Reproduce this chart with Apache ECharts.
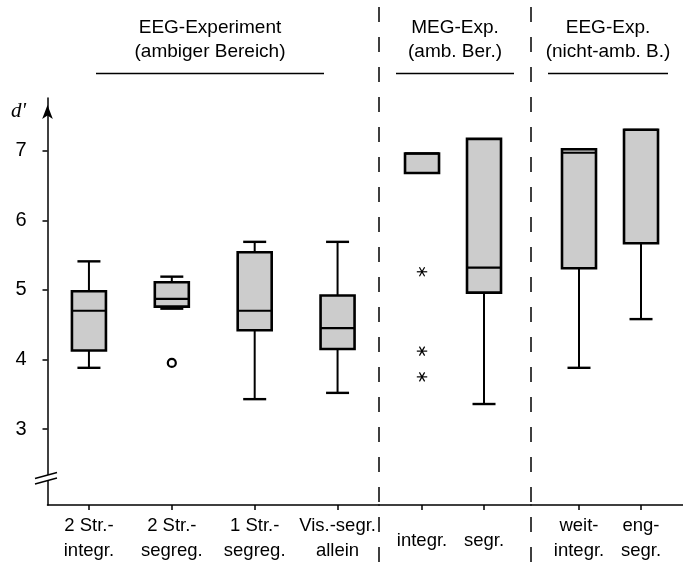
<!DOCTYPE html>
<html>
<head>
<meta charset="utf-8">
<script src="https://cdn.jsdelivr.net/npm/echarts@6/dist/echarts.min.js"></script>
<style>
  html, body { margin: 0; padding: 0; background: #fff; }
  #chart { width: 683px; height: 566px; }
</style>
</head>
<body>
<div id="chart"></div>
<script>
// ---- data -------------------------------------------------------------
// Conditions (two-line axis labels) and the experiment each belongs to
const categories = ['2 Str.-\nintegr.', '2 Str.-\nsegreg.', '1 Str.-\nsegreg.', 'Vis.-segr.\nallein',
                    'integr.', 'segr.', 'weit-\nintegr.', 'eng-\nsegr.'];
const groupOf = [0, 0, 0, 0, 1, 1, 2, 2];
const groupTitles = ['EEG-Experiment\n(ambiger Bereich)', 'MEG-Exp.\n(amb. Ber.)', 'EEG-Exp.\n(nicht-amb. B.)'];

// Box statistics of d'
const whiskerLow  = [3.88, 4.73, 3.43, 3.52, 6.68, 3.36, 3.88, 4.58];
const quartile1   = [4.13, 4.76, 4.42, 4.15, 6.68, 4.96, 5.31, 5.67];
const medians     = [4.70, 4.87, 4.70, 4.45, 6.96, 5.32, 6.97, 7.30];
const quartile3   = [4.98, 5.11, 5.54, 4.92, 6.96, 7.17, 7.02, 7.30];
const whiskerHigh = [5.41, 5.19, 5.69, 5.69, 6.96, 7.17, 7.02, 7.30];

// Outliers as [condition index, d']
const outliersCircle = [[1, 3.95]];
const outliersStar   = [[4, 5.26], [4, 4.12], [4, 3.75]];

const yTickValues = [3, 4, 5, 6, 7];

// ---- layout -----------------------------------------------------------
const W = 683, H = 566;
const PLOT_TOP = 98, PLOT_BOTTOM = 505;
const Y_MIN = 1.909, Y_MAX = 7.757;
const sepX = [379, 531];                       // dashed separators between experiments
const gridLeft = [47.5, sepX[0], sepX[1]];
const gridRight = [sepX[0], sepX[1], W];
const xRange = [[-0.5, 3.5], [-0.694, 1.758], [-0.774, 1.677]];
const BOX_W = 34, CAP_W = 23;
const FONT = '"Liberation Sans", Arial, sans-serif';

// position of each condition inside its experiment panel
const localPos = [];
const counter = [0, 0, 0];
groupOf.forEach(function (g) { localPos.push(counter[g]++); });

function boxRows(g) {
  const rows = [];
  for (let i = 0; i < categories.length; i++) {
    if (groupOf[i] !== g) continue;
    rows.push([localPos[i], whiskerLow[i], quartile1[i], medians[i], quartile3[i], whiskerHigh[i]]);
  }
  return rows;
}
function outlierRows(list, g) {
  return list.filter(function (o) { return groupOf[o[0]] === g; })
             .map(function (o) { return [localPos[o[0]], o[1]]; });
}
function labelsOf(g) {
  return categories.filter(function (c, i) { return groupOf[i] === g; });
}

const black = '#000';
function seg(x1, y1, x2, y2, w) {
  return { type: 'line', shape: { x1: x1, y1: y1, x2: x2, y2: y2 },
           style: { stroke: black, lineWidth: w || 2 } };
}

function renderBox(params, api) {
  const x = api.value(0);
  const pLow = api.coord([x, api.value(1)]);
  const pQ1 = api.coord([x, api.value(2)]);
  const pMed = api.coord([x, api.value(3)]);
  const pQ3 = api.coord([x, api.value(4)]);
  const pHigh = api.coord([x, api.value(5)]);
  const cx = pQ1[0];
  const children = [];
  if (pLow[1] - pQ1[1] > 0.5) {
    children.push(seg(cx, pQ1[1], cx, pLow[1]));
    children.push(seg(cx - CAP_W / 2, pLow[1], cx + CAP_W / 2, pLow[1], 2.4));
  }
  if (pQ3[1] - pHigh[1] > 0.5) {
    children.push(seg(cx, pHigh[1], cx, pQ3[1]));
    children.push(seg(cx - CAP_W / 2, pHigh[1], cx + CAP_W / 2, pHigh[1], 2.4));
  }
  children.push({ type: 'rect',
    shape: { x: cx - BOX_W / 2, y: pQ3[1], width: BOX_W, height: pQ1[1] - pQ3[1] },
    style: { fill: '#cccccc', stroke: black, lineWidth: 2.6 } });
  children.push(seg(cx - BOX_W / 2, pMed[1], cx + BOX_W / 2, pMed[1], 2.2));
  return { type: 'group', children: children };
}

function renderCircle(params, api) {
  const p = api.coord([api.value(0), api.value(1)]);
  return { type: 'circle', shape: { cx: p[0], cy: p[1], r: 4 },
           style: { fill: '#fff', stroke: black, lineWidth: 2.2 } };
}

function renderStar(params, api) {
  const p = api.coord([api.value(0), api.value(1)]);
  const r = 5.2, dx = r * 0.5, dy = r * 0.866;
  return { type: 'group', children: [
    seg(p[0] - r, p[1], p[0] + r, p[1], 1.2),
    seg(p[0] - dx, p[1] - dy, p[0] + dx, p[1] + dy, 1.2),
    seg(p[0] - dx, p[1] + dy, p[0] + dx, p[1] - dy, 1.2)
  ] };
}

const grids = [], xAxes = [], yAxes = [], series = [];
for (let g = 0; g < 3; g++) {
  grids.push({ left: gridLeft[g], width: gridRight[g] - gridLeft[g], top: PLOT_TOP, height: PLOT_BOTTOM - PLOT_TOP });
  const names = labelsOf(g);
  const twoLine = names.some(function (n) { return n.indexOf('\n') >= 0; });
  xAxes.push({
    type: 'value', gridIndex: g, min: xRange[g][0], max: xRange[g][1],
    splitLine: { show: false },
    axisLine: { show: true, onZero: false, lineStyle: { color: black, width: 1.5 } },
    axisTick: { show: true, length: 5, customValues: names.map(function (n, i) { return i; }),
                lineStyle: { color: black, width: 1.5 } },
    axisLabel: { customValues: names.map(function (n, i) { return i; }),
                 formatter: function (v) { return names[Math.round(v)]; },
                 color: black, fontFamily: FONT, fontSize: 18.5, lineHeight: 25,
                 margin: twoLine ? 8 : 23 }
  });
  yAxes.push({
    type: 'value', gridIndex: g, min: Y_MIN, max: Y_MAX, show: g === 0,
    splitLine: { show: false },
    axisLine: { show: true, onZero: false, lineStyle: { color: black, width: 1.5 },
                symbol: ['none', 'arrow'], symbolSize: [8, 14], symbolOffset: [0, -7] },
    axisTick: { show: true, length: 5, customValues: yTickValues, lineStyle: { color: black, width: 1.5 } },
    axisLabel: { customValues: yTickValues, color: black, fontFamily: FONT, fontSize: 20, margin: 21 }
  });
  series.push({ type: 'custom', xAxisIndex: g, yAxisIndex: g, renderItem: renderBox, data: boxRows(g), z: 3 });
  const circ = outlierRows(outliersCircle, g);
  if (circ.length) series.push({ type: 'custom', xAxisIndex: g, yAxisIndex: g, renderItem: renderCircle, data: circ, z: 4 });
  const star = outlierRows(outliersStar, g);
  if (star.length) series.push({ type: 'custom', xAxisIndex: g, yAxisIndex: g, renderItem: renderStar, data: star, z: 4 });
}

// experiment headings, underlines, separators and the axis break
const headingCenter = [210, 455, 608];
const underline = [[96, 324], [396, 514], [548, 668]];
const graphics = [];
for (let g = 0; g < 3; g++) {
  graphics.push({ type: 'text', x: headingCenter[g], y: 16, z: 10,
    style: { text: groupTitles[g], fill: black, font: '19px ' + FONT, lineHeight: 24,
             textAlign: 'center', textVerticalAlign: 'top' } });
  graphics.push({ type: 'line', z: 10, shape: { x1: underline[g][0], y1: 73.5, x2: underline[g][1], y2: 73.5 },
    style: { stroke: black, lineWidth: 1.5 } });
}
sepX.forEach(function (x) {
  graphics.push({ type: 'line', z: 10, shape: { x1: x, y1: 7, x2: x, y2: H },
    style: { stroke: black, lineWidth: 1.5, lineDash: [15, 15] } });
});
graphics.push({ type: 'polygon', z: 20, shape: { points: [[40, 477], [56, 472.5], [56, 478.5], [40, 483]] },
  style: { fill: '#fff' } });
graphics.push({ type: 'line', z: 21, shape: { x1: 35, y1: 478.5, x2: 57, y2: 472.5 }, style: { stroke: black, lineWidth: 1.3 } });
graphics.push({ type: 'line', z: 21, shape: { x1: 35, y1: 484, x2: 57, y2: 478 }, style: { stroke: black, lineWidth: 1.3 } });
graphics.push({ type: 'text', x: 11, y: 101, z: 10,
  style: { text: "d'", fill: black, font: 'italic 21px "Liberation Serif", "DejaVu Serif", serif' } });

const chart = echarts.init(document.getElementById('chart'), null, { renderer: 'canvas' });
chart.setOption({
  animation: false,
  backgroundColor: '#fff',
  grid: grids,
  xAxis: xAxes,
  yAxis: yAxes,
  series: series,
  graphic: graphics
});
</script>
</body>
</html>
